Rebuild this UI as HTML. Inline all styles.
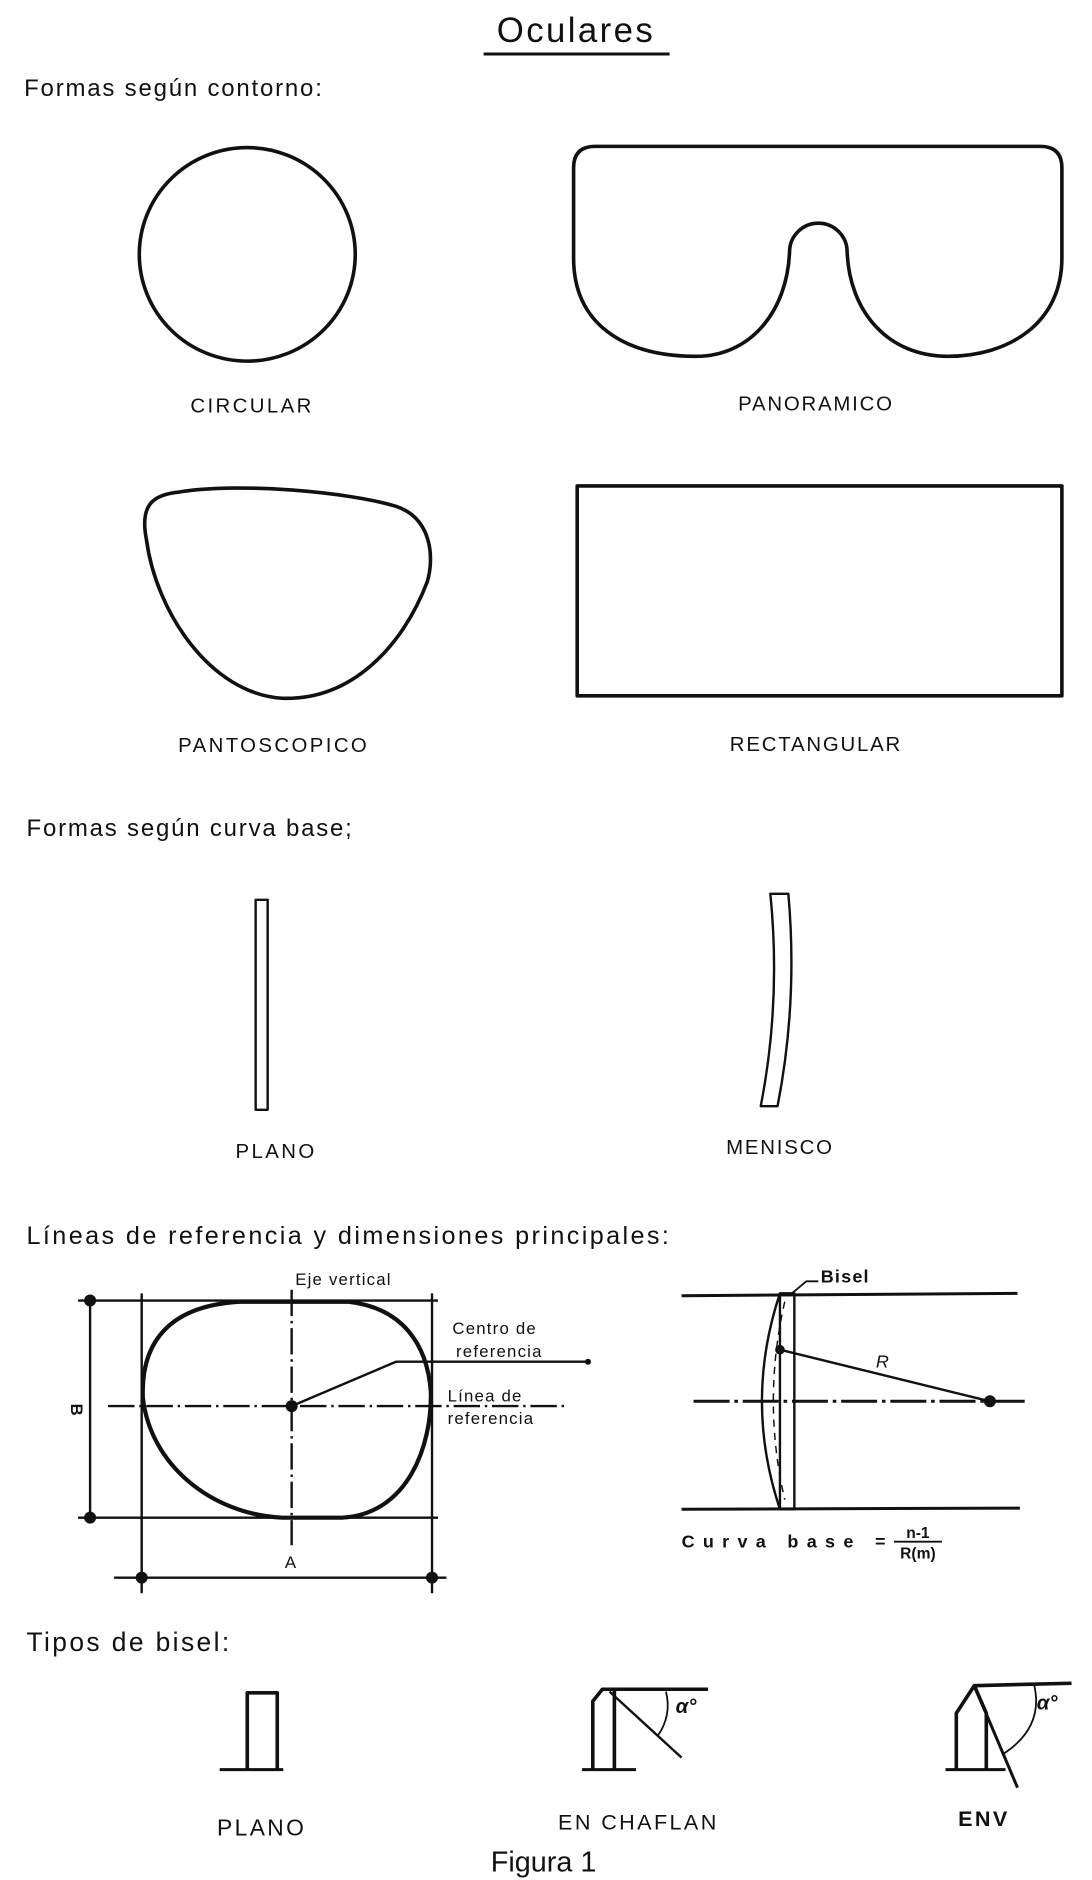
<!DOCTYPE html>
<html><head><meta charset="utf-8"><style>
html,body{margin:0;padding:0;background:#fff}
svg{display:block}
text{font-family:"Liberation Sans",sans-serif;fill:#111}
</style></head><body>
<svg width="1092" height="1880" viewBox="0 0 910 1567" xmlns="http://www.w3.org/2000/svg">
<g fill="none" stroke="#111" stroke-width="3" stroke-linejoin="round">
<text x="480" y="35" text-anchor="middle" font-size="29" letter-spacing="2" stroke="none">Oculares</text>
<line x1="403" y1="45" x2="558" y2="45" stroke-width="2.5"/>
<text x="20" y="80" font-size="20" letter-spacing="1.5" stroke="none">Formas según contorno:</text>
<ellipse cx="206" cy="212" rx="90" ry="89"/>
<text x="210" y="344" text-anchor="middle" font-size="17" letter-spacing="2" stroke="none">CIRCULAR</text>
<path d="M496 122 L867 122 Q885 122 885 140 L885 215 C885 270 840 297 790 297 C740 297 708 260 706 210 A24 24 0 0 0 658 210 C656 260 625 297 580 297 C520 297 478 270 478 215 L478 140 Q478 122 496 122 Z"/>
<text x="680" y="342" text-anchor="middle" font-size="17" letter-spacing="1.5" stroke="none">PANORAMICO</text>
<path d="M150 410 C200 402 290 410 330 422 C360 432 362 465 356 485 C335 540 292 584 235 582 C175 578 130 510 122 450 C116 420 128 412 150 410 Z"/>
<text x="228" y="627" text-anchor="middle" font-size="17" letter-spacing="2" stroke="none">PANTOSCOPICO</text>
<rect x="481" y="405" width="404" height="175"/>
<text x="680" y="626" text-anchor="middle" font-size="17" letter-spacing="1.5" stroke="none">RECTANGULAR</text>

<text x="22" y="697" font-size="20" letter-spacing="1.5" stroke="none">Formas según curva base;</text>
<rect x="213" y="750" width="10" height="175" stroke-width="2"/>
<path d="M642 745 L657 745 Q665 835 648 922 L634 922 Q651 835 642 745 Z" stroke-width="2"/>
<text x="230" y="965" text-anchor="middle" font-size="17" letter-spacing="2" stroke="none">PLANO</text>
<text x="650" y="962" text-anchor="middle" font-size="17" letter-spacing="1.5" stroke="none">MENISCO</text>

<text x="22" y="1037" font-size="21" letter-spacing="2" stroke="none">Líneas de referencia y dimensiones principales:</text>
<g stroke-width="2">
<line x1="65" y1="1084" x2="365" y2="1084"/>
<line x1="65" y1="1265" x2="365" y2="1265"/>
<line x1="118" y1="1078" x2="118" y2="1328"/>
<line x1="360" y1="1078" x2="360" y2="1328"/>
<line x1="75" y1="1084" x2="75" y2="1265"/>
<line x1="95" y1="1315" x2="372" y2="1315"/>
<line x1="243" y1="1075" x2="243" y2="1288" stroke-dasharray="22 4 2 4"/>
<line x1="90" y1="1172" x2="470" y2="1172" stroke-dasharray="22 4 2 4"/>
<polyline points="243,1172 330,1135 490,1135"/>
</g>
<g fill="#111" stroke="none">
<circle cx="75" cy="1084" r="5"/><circle cx="75" cy="1265" r="5"/>
<circle cx="118" cy="1315" r="5"/><circle cx="360" cy="1315" r="5"/>
<circle cx="243" cy="1172" r="5"/><circle cx="490" cy="1135" r="2.5"/>
</g>
<path d="M200 1085 L290 1085 C335 1090 356 1120 359 1160 C360 1205 340 1262 285 1265 L235 1265 C175 1262 125 1220 119 1165 C117 1115 145 1088 200 1085 Z" stroke-width="3.5"/>
<text x="0" y="0" font-size="14" stroke="none" font-weight="bold" transform="translate(59,1175) rotate(90)" text-anchor="middle">B</text>
<text x="242" y="1307" font-size="14" stroke="none" text-anchor="middle">A</text>
<g stroke="none" font-size="14" letter-spacing="1">
<text x="246" y="1071">Eje vertical</text>
<text x="377" y="1112">Centro de</text>
<text x="380" y="1131">referencia</text>
<text x="373" y="1168">Línea de</text>
<text x="373" y="1187">referencia</text>
</g>
<g stroke-width="2.5">
<line x1="568" y1="1080" x2="848" y2="1078"/>
<line x1="578" y1="1168" x2="855" y2="1168" stroke-dasharray="30 4 3 4"/>
<line x1="568" y1="1258" x2="850" y2="1257"/>
<rect x="650" y="1078" width="12" height="180" stroke-width="2"/>
<path d="M650 1078 Q620 1168 650 1258" stroke-width="2"/>
<path d="M654 1085 Q635 1168 654 1250" stroke-width="1.2" stroke-dasharray="6 5"/>
<line x1="650" y1="1125" x2="825" y2="1168" stroke-width="2"/>
<polyline points="660,1078 672,1068 682,1068" stroke-width="1.5"/>
</g>
<circle cx="825" cy="1168" r="5" fill="#111" stroke="none"/>
<circle cx="650" cy="1125" r="4" fill="#111" stroke="none"/>
<text x="730" y="1140" font-size="15" font-style="italic" stroke="none">R</text>
<text x="684" y="1069" font-size="15" font-weight="bold" stroke="none" letter-spacing="1">Bisel</text>
<text x="568" y="1290" font-size="15" font-weight="bold" stroke="none" textLength="170" lengthAdjust="spacing">Curva base =</text>
<text x="765" y="1282" font-size="13" font-weight="bold" stroke="none" text-anchor="middle">n-1</text>
<line x1="745" y1="1285" x2="785" y2="1285" stroke-width="1.5"/>
<text x="765" y="1299" font-size="13" font-weight="bold" stroke="none" text-anchor="middle">R(m)</text>

<text x="22" y="1376" font-size="22" letter-spacing="2" stroke="none">Tipos de bisel:</text>
<g stroke-width="3">
<polyline points="206,1475 206,1411 231,1411 231,1475"/>
<line x1="183" y1="1475" x2="236" y2="1475" stroke-width="2.5"/>
<polyline points="494,1475 494,1418 502,1408 590,1408"/>
<line x1="512" y1="1408" x2="512" y2="1475"/>
<line x1="485" y1="1475" x2="530" y2="1475" stroke-width="2.5"/>
<line x1="508" y1="1410" x2="568" y2="1465" stroke-width="2"/>
<path d="M555 1410 Q560 1430 548 1447" stroke-width="1.5"/>
<polyline points="797,1475 797,1428 812,1405 893,1403"/>
<polyline points="812,1405 822,1428 822,1475"/>
<line x1="788" y1="1475" x2="838" y2="1475" stroke-width="2.5"/>
<line x1="812" y1="1405" x2="848" y2="1490" stroke-width="2.5"/>
<path d="M862 1405 Q870 1440 836 1462" stroke-width="1.5"/>
</g>
<text x="563" y="1428" font-size="17" font-style="italic" font-weight="bold" stroke="none">α°</text>
<text x="864" y="1425" font-size="17" font-style="italic" font-weight="bold" stroke="none">α°</text>
<text x="218" y="1530" text-anchor="middle" font-size="19" letter-spacing="2" stroke="none">PLANO</text>
<text x="532" y="1525" text-anchor="middle" font-size="18" letter-spacing="2" stroke="none">EN CHAFLAN</text>
<text x="820" y="1522" text-anchor="middle" font-size="18" font-weight="bold" letter-spacing="2" stroke="none">ENV</text>
<text x="453" y="1560" text-anchor="middle" font-size="24" stroke="none">Figura 1</text>
</g>
</svg>
</body></html>
